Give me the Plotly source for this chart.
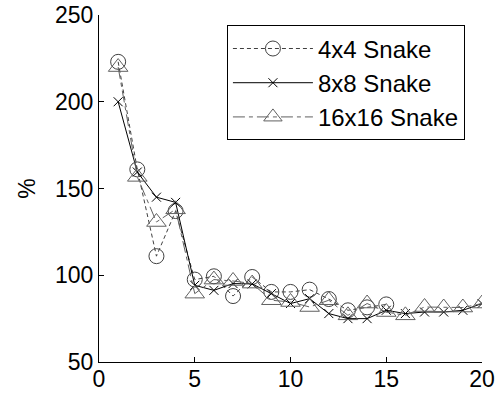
import plotly.graph_objects as go

x4 = list(range(1, 16))
snake4 = [223, 161, 111, 137, 97.5, 99.4, 88, 99, 90.4, 90.4, 91.7, 86.3, 79.8, 81.5, 83.2]
x8 = list(range(1, 21))
snake8 = [200, 159.5, 145, 142, 94.2, 91.3, 95.2, 95, 89.4, 83.7, 86.5, 77.9, 75, 75, 79.8, 77.9, 78.8, 78.8, 79.8, 83.7]
x16 = list(range(1, 21))
snake16 = [220, 156.7, 130.7, 138, 89.4, 97.5, 96.7, 95.2, 85.6, 84.6, 81.7, 85.6, 76.9, 83.7, 78.8, 76.9, 81.7, 81.4, 81.4, 83.7]
names = ["4x4 Snake", "8x8 Snake", "16x16 Snake"]

FONT = "Arial, Liberation Sans, sans-serif"
FS = 23
LFS = 24

fig = go.Figure()
fig.add_trace(go.Scatter(
    x=x4, y=snake4, name=names[0], mode="lines+markers", legendgroup="a",
    line=dict(color="#404040", width=1, dash="4px,3px"),
    marker=dict(symbol="circle-open", size=15, color="#404040", line=dict(width=1)),
))
fig.add_trace(go.Scatter(
    x=x8, y=snake8, name=names[1], mode="lines+markers", legendgroup="b",
    line=dict(color="#000000", width=1),
    marker=dict(symbol="x-thin-open", size=9, color="#000000", line=dict(width=1, color="#000000")),
))
fig.add_trace(go.Scatter(
    x=x16, y=snake16, name=names[2], mode="lines+markers", legendgroup="c",
    line=dict(color="#606060", width=1, dash="12px,4px,4px,4px"),
    marker=dict(symbol="triangle-up-open", size=17, color="#606060", line=dict(width=1)),
))

fig.update_layout(
    width=500, height=396,
    margin=dict(l=98.5, r=18, t=15, b=34.3, autoexpand=False),
    paper_bgcolor="white", plot_bgcolor="white",
    font=dict(family=FONT, size=FS, color="black"),
    showlegend=True,
    legend=dict(
        x=0.334, y=0.97, xanchor="left", yanchor="top",
        bordercolor="black", borderwidth=1, bgcolor="white",
        font=dict(family=FONT, size=LFS),
        traceorder="grouped", tracegroupgap=0, itemwidth=80,
    ),
    xaxis=dict(
        range=[0, 20], tickvals=[0, 5, 10, 15, 20], automargin=False,
        showline=True, linecolor="black", linewidth=1, mirror=False,
        ticks="inside", ticklen=5, tickcolor="black",
        showgrid=False, zeroline=False,
        tickfont=dict(family=FONT, size=FS), ticklabelstandoff=-4,
    ),
    yaxis=dict(
        range=[50, 250], tickvals=[50, 100, 150, 200, 250], automargin=False,
        showline=True, linecolor="black", linewidth=1, mirror=False,
        ticks="inside", ticklen=5, tickcolor="black",
        showgrid=False, zeroline=False,
        tickfont=dict(family=FONT, size=FS),
        title=dict(text="%", font=dict(family=FONT, size=FS), standoff=12),
    ),
)

# remove the default 8px page margin so the figure fills the 500x396 window
fig.write_html(
    "out.html",
    config={"displayModeBar": False},
    post_script="document.body.style.margin='0';document.documentElement.style.overflow='hidden';",
)
